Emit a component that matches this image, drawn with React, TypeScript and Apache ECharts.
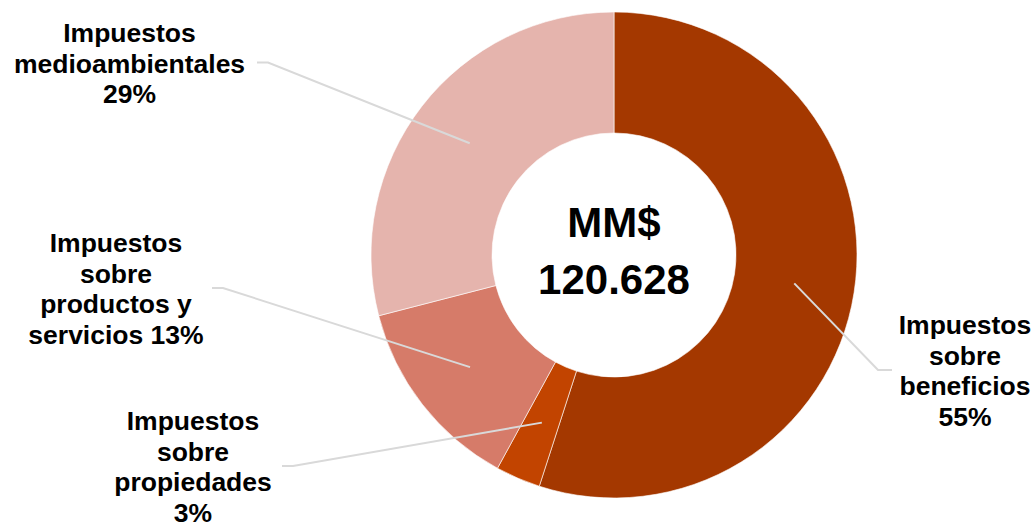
import React, { useEffect, useRef } from "react";
import * as echarts from "echarts";

// ---- Data ----
const categories = [
  "Impuestos sobre beneficios",
  "Impuestos sobre propiedades",
  "Impuestos sobre productos y servicios",
  "Impuestos medioambientales",
];
// Wrapped label names as shown in the chart
const labelNames = [
  "Impuestos\nsobre\nbeneficios",
  "Impuestos\nsobre\npropiedades",
  "Impuestos\nsobre\nproductos y\nservicios",
  "Impuestos\nmedioambientales",
];
const percentSeparators = ["\n", "\n", " ", "\n"];
// MM$ (estimated; total 120.628)
const values = [66.3, 3.6, 15.7, 35.0];
const totalText = "MM$\n120.628";

const colors = ["#A43800", "#C24400", "#D67B69", "#E5B4AD"];

// ---- Layout ----
const CENTER = [614, 255];
const R_IN = 122;
const R_OUT = 243;
// label block centers and leader line end x / bend x
const labelPos = [
  { x: 965, y: 371, lineEnd: 892, bend: 878 },
  { x: 193, y: 467, lineEnd: 282, bend: 293 },
  { x: 116, y: 289, lineEnd: 212, bend: 223 },
  { x: 129.5, y: 63.5, lineEnd: 257, bend: 268 },
];

export default function App() {
  const ref = useRef<HTMLDivElement>(null);
  useEffect(() => {
    document.body.style.margin = "0";
    if (!ref.current) return;
    const chart = echarts.init(ref.current, undefined, { renderer: "svg" });
    const total = values.reduce((a, b) => a + b, 0);
    const midAngles: number[] = [];
    let cum = 0;
    values.forEach((v) => {
      midAngles.push(((cum + v / 2) / total) * Math.PI * 2);
      cum += v;
    });
    const rMid = (R_IN + R_OUT) / 2;
    const font = "'Liberation Sans', Arial, Helvetica, sans-serif";

    const pieData = (visible: boolean) =>
      values.map((v, i) => ({
        name: categories[i],
        value: v,
        itemStyle: { color: visible ? colors[i] : "rgba(0,0,0,0)" },
      }));

    chart.setOption({
      animation: false,
      backgroundColor: "#ffffff",
      series: [
        {
          type: "pie",
          z: 2,
          center: CENTER,
          radius: [R_IN, R_OUT],
          startAngle: 90,
          clockwise: true,
          silent: true,
          itemStyle: { borderColor: "rgba(255,255,255,0.6)", borderWidth: 1 },
          data: pieData(true),
          label: { show: false },
          labelLine: { show: false },
        },
        {
          type: "pie",
          z: 4,
          center: CENTER,
          radius: [R_IN, R_OUT],
          startAngle: 90,
          clockwise: true,
          silent: true,
          percentPrecision: 0,
          avoidLabelOverlap: false,
          itemStyle: { borderWidth: 0 },
          data: pieData(false),
          label: {
            show: true,
            position: "outside",
            overflow: "none",
            color: "#000",
            fontFamily: font,
            fontWeight: "bold",
            fontSize: 26.5,
            lineHeight: 30.5,
            align: "center",
            formatter: (p: any) =>
              labelNames[p.dataIndex] + percentSeparators[p.dataIndex] + p.percent + "%",
          },
          labelLine: {
            show: true,
            lineStyle: { color: "#D9D9D9", width: 2, opacity: 1 },
          },
          labelLayout: (params: any) => {
            const i = params.dataIndex;
            const lp = labelPos[i];
            const a = midAngles[i];
            const sx = CENTER[0] + rMid * Math.sin(a);
            const sy = CENTER[1] - rMid * Math.cos(a);
            return {
              x: lp.x,
              y: lp.y,
              align: "center",
              verticalAlign: "middle",
              labelLinePoints: [
                [sx, sy],
                [lp.bend, lp.y - 1],
                [lp.lineEnd, lp.y - 1],
              ],
            };
          },
        },
      ],
      graphic: [
        {
          type: "text",
          x: CENTER[0],
          y: CENTER[1] - 4,
          z: 10,
          style: {
            text: totalText,
            fill: "#000",
            font: `bold 42px ${font}`,
            lineHeight: 57,
            textAlign: "center",
            textVerticalAlign: "middle",
          },
        },
      ],
    });
    return () => chart.dispose();
  }, []);
  return <div ref={ref} style={{ width: 1036, height: 524 }} />;
}
